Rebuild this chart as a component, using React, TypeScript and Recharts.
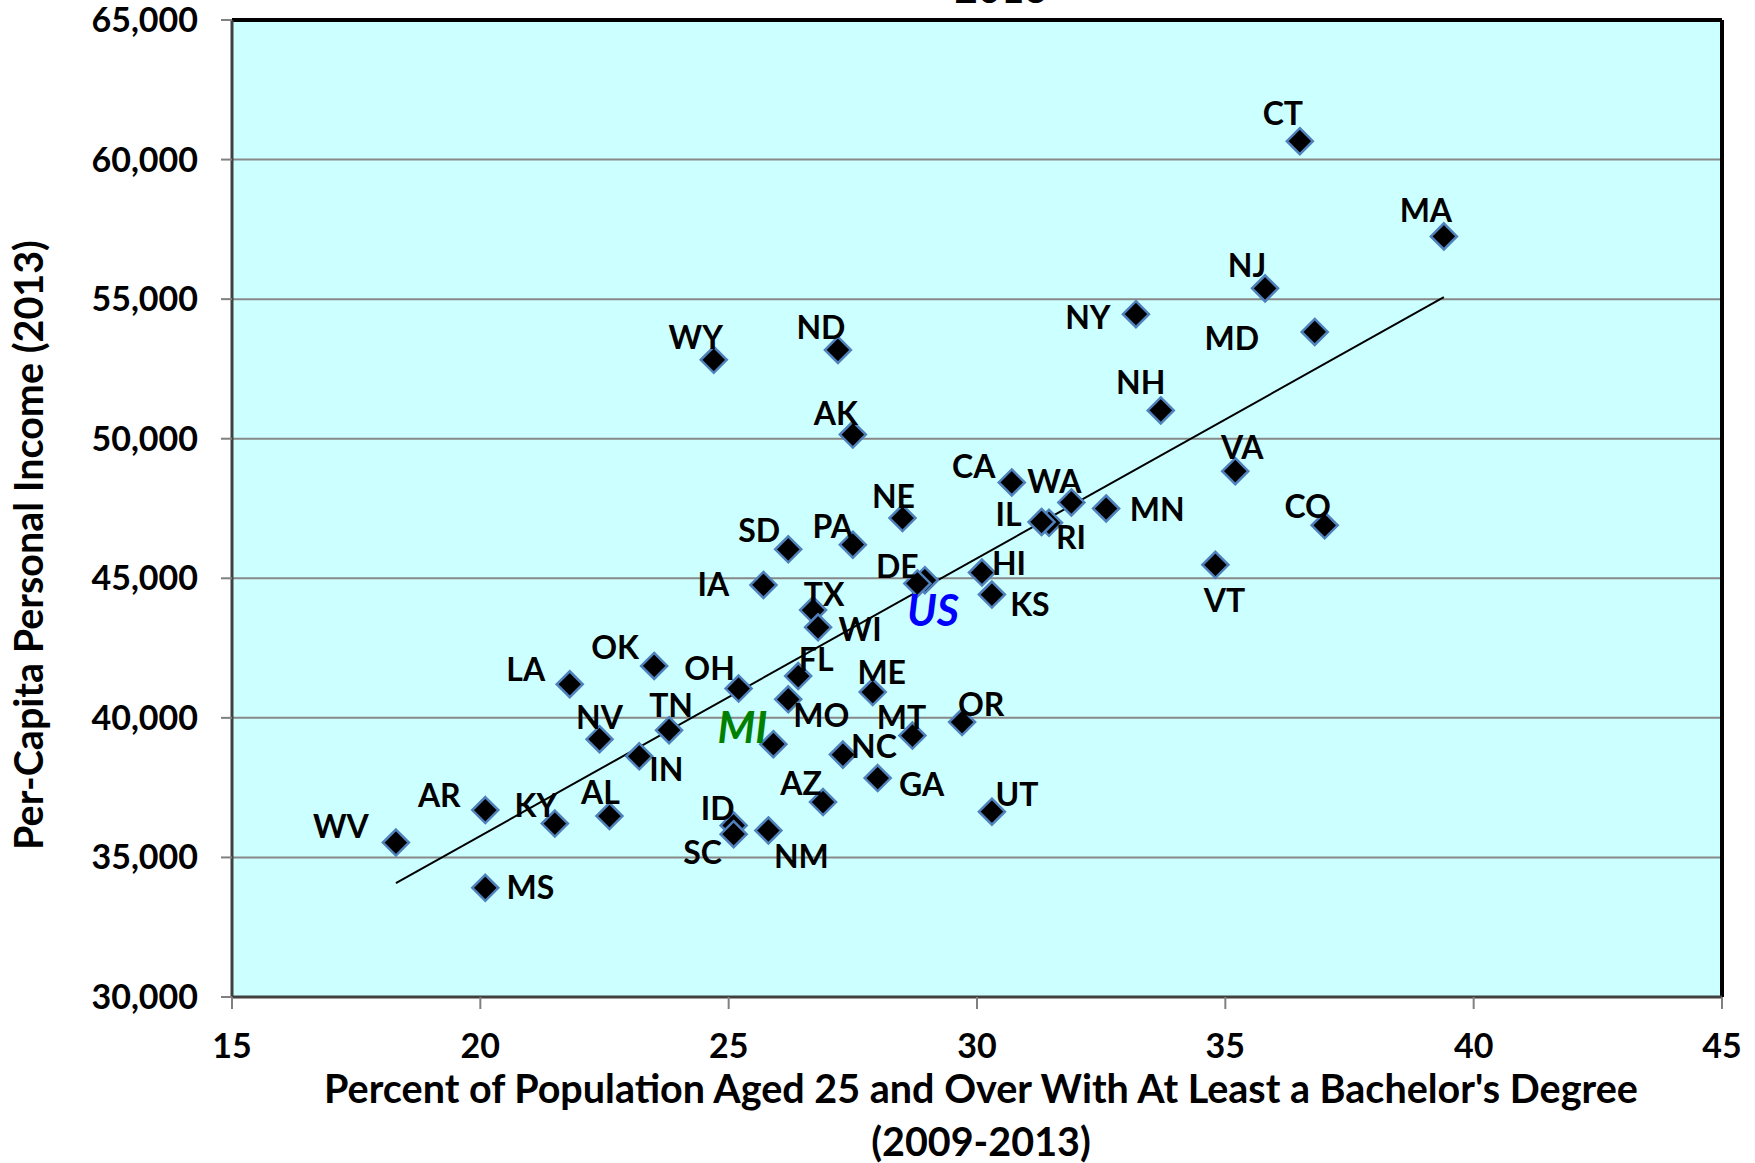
import React from 'react';
import {
  ScatterChart,
  Scatter,
  XAxis,
  YAxis,
  CartesianGrid,
  ReferenceLine,
  Label,
} from 'recharts';

const FONT = 'Lato, "Open Sans", "DejaVu Sans", sans-serif';

// ---------- data ----------
const states = [
  'WV', 'MS', 'AR', 'KY', 'AL', 'NV', 'LA', 'IN', 'OK', 'TN',
  'WY', 'OH', 'ID', 'SC', 'IA', 'NM', 'MI', 'SD', 'MO', 'FL',
  'TX', 'WI', 'AZ', 'PA', 'ND', 'AK', 'NC', 'ME', 'GA', 'NE',
  'MT', 'US', 'DE', 'OR', 'HI', 'KS', 'UT', 'CA', 'RI', 'IL',
  'WA', 'MN', 'NY', 'NH', 'VT', 'VA', 'NJ', 'CT', 'MD', 'CO',
  'MA',
];

const bachelorsPct = [
  18.3, 20.1, 20.1, 21.5, 22.6, 22.4, 21.8, 23.2, 23.5, 23.8,
  24.7, 25.2, 25.1, 25.1, 25.7, 25.8, 25.9, 26.2, 26.2, 26.4,
  26.7, 26.8, 26.9, 27.5, 27.2, 27.5, 27.3, 27.9, 28.0, 28.5,
  28.7, 28.95, 28.8, 29.7, 30.1, 30.3, 30.3, 30.7, 31.45, 31.3,
  31.9, 32.6, 33.2, 33.7, 34.8, 35.2, 35.8, 36.5, 36.8, 37.0,
  39.4,
];

const perCapitaIncome = [
  35533, 33913, 36698, 36214, 36481, 39235, 41204, 38622, 41861, 39558,
  52826, 41049, 36146, 35831, 44763, 35965, 39055, 46039, 40663, 41497,
  43862, 43244, 36983, 46202, 53182, 50150, 38683, 40924, 37845, 47157,
  39366, 44930, 44815, 39848, 45204, 44417, 36640, 48434, 46989, 47020,
  47717, 47500, 54462, 51013, 45483, 48838, 55386, 60658, 53826, 46897,
  57248,
];

const xTicks = [15, 20, 25, 30, 35, 40, 45];
const yTicks = [30000, 35000, 40000, 45000, 50000, 55000, 60000, 65000];

// fitted trend line end points
const trendX = [18.3, 39.4];
const trendY = [34080, 55070];

// ---------- label placement (style, not data) ----------
const labelOffsets: Record<string, [number, number]> = {
  CT: [-17, -28], MA: [-18, -26], NJ: [-18, -23], MD: [-83, 7], NY: [-48, 3],
  NH: [-20, -28], VA: [7, -24], CO: [-17, -19], VT: [9, 36], MN: [51, 1],
  WA: [-17, -21], CA: [-38, -16], IL: [-33, -7], RI: [22, 15], HI: [27, -9],
  KS: [38, 10], UT: [25, -17], OR: [19, -18], MT: [-11, -18], DE: [-20, -17],
  US: [8, 30], NE: [-9, -22], ME: [9, -20], GA: [44, 6], NC: [31, -8],
  AZ: [-22, -19], AK: [-17, -21], ND: [-17, -22], PA: [-20, -18], TX: [11, -16],
  WI: [42, 2], FL: [18, -17], MO: [33, 16], SD: [-29, -19], MI: [-31, -17],
  NM: [33, 26], IA: [-50, 0], OH: [-29, -20], ID: [-16, -17], SC: [-31, 18],
  WY: [-18, -22], TN: [2, -25], IN: [27, 13], OK: [-39, -18], NV: [0, -22],
  AL: [-9, -24], LA: [-44, -15], KY: [-19, -18], AR: [-46, -15], MS: [45, 0],
  WV: [-55, -16],
};

const specialLabel: Record<string, { color: string; size: number }> = {
  US: { color: '#0000FF', size: 43 },
  MI: { color: '#008000', size: 43 },
};

const points = states.map((s, i) => ({
  state: s,
  x: bachelorsPct[i],
  y: perCapitaIncome[i],
}));

// ---------- shapes ----------
const Diamond = (props: any) => {
  const { cx, cy } = props;
  if (cx == null || cy == null) return <g />;
  const r = 13;
  return (
    <polygon
      points={`${cx},${cy - r} ${cx + r},${cy} ${cx},${cy + r} ${cx - r},${cy}`}
      fill="#000000"
      stroke="#4F81BD"
      strokeWidth={2.5}
    />
  );
};

const StateLabel = (props: any) => {
  const { cx, cy, payload } = props;
  if (cx == null || cy == null || !payload) return <g />;
  const name: string = payload.state;
  const off = labelOffsets[name] || [0, -22];
  const sp = specialLabel[name];
  return (
    <text
      x={cx + off[0]}
      y={cy + off[1]}
      dy="0.36em"
      textAnchor="middle"
      fontFamily={FONT}
      fontWeight={700}
      fontStyle={sp ? 'italic' : 'normal'}
      fontSize={sp ? sp.size : 32}
      fill={sp ? sp.color : '#000000'}
    >
      {name}
    </text>
  );
};

const YTitle = (props: any) => (
  <text
    x={43}
    y={545}
    transform="rotate(-90 43 545)"
    textAnchor="middle"
    fontFamily={FONT}
    fontWeight={700}
    fontSize={39.5}
    fill="#000"
  >
    Per-Capita Personal Income (2013)
  </text>
);

const XTitle = (props: any) => {
  const vb = props.viewBox || { x: 232, width: 1490 };
  const cx = vb.x + vb.width / 2 + 4;
  return (
    <g>
      <text x={cx} y={1103} textAnchor="middle" fontFamily={FONT} fontWeight={700} fontSize={39.5} fill="#000">
        Percent of Population Aged 25 and Over With At Least a Bachelor's Degree
      </text>
      <text x={cx} y={1156} textAnchor="middle" fontFamily={FONT} fontWeight={700} fontSize={39.5} fill="#000">
        (2009-2013)
      </text>
    </g>
  );
};

const tickStyle = { fontSize: 34, fontWeight: 700, fill: '#000', fontFamily: FONT };

export default function App() {
  return (
    <div style={{ position: 'absolute', left: 0, top: 0, width: 1755, height: 1163, background: '#fff' }}>
      <ScatterChart
        width={1755}
        height={1163}
        margin={{ top: 20, right: 33, bottom: 0, left: 0 }}
        style={{ fontFamily: FONT }}
      >
        <CartesianGrid
          vertical={false}
          stroke="#888888"
          strokeWidth={2}
          fill="#CCFFFF"
          fillOpacity={1}
        />
        <XAxis
          type="number"
          dataKey="x"
          domain={[15, 45]}
          ticks={xTicks}
          interval={0}
          allowDataOverflow
          height={166}
          tick={tickStyle}
          tickSize={12}
          tickMargin={25}
          axisLine={{ stroke: '#404040', strokeWidth: 3 }}
          tickLine={{ stroke: '#808080', strokeWidth: 2 }}
        >
          <Label content={<XTitle />} />
        </XAxis>
        <YAxis
          type="number"
          dataKey="y"
          domain={[30000, 65000]}
          ticks={yTicks}
          interval={0}
          allowDataOverflow
          width={232}
          tick={tickStyle}
          tickFormatter={(v: number) => v.toLocaleString('en-US')}
          tickSize={11}
          tickMargin={23}
          axisLine={{ stroke: '#404040', strokeWidth: 3 }}
          tickLine={{ stroke: '#808080', strokeWidth: 2 }}
        >
          <Label content={<YTitle />} />
        </YAxis>
        <ReferenceLine y={65000} stroke="#000000" strokeWidth={4} />
        <ReferenceLine x={45} stroke="#000000" strokeWidth={4} />
        <Scatter data={points} shape={<Diamond />} isAnimationActive={false} />
        <ReferenceLine
          segment={[
            { x: trendX[0], y: trendY[0] },
            { x: trendX[1], y: trendY[1] },
          ]}
          stroke="#000000"
          strokeWidth={2}
        />
        <Scatter data={points} shape={<StateLabel />} isAnimationActive={false} />
        <text x={1001} y={3} textAnchor="middle" fontFamily={FONT} fontWeight={700} fontSize={40} fill="#000">
          2013
        </text>
      </ScatterChart>
    </div>
  );
}
